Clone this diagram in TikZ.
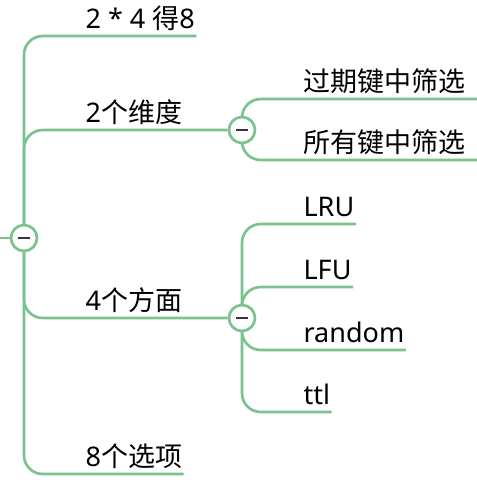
\documentclass[tikz,border=0pt]{standalone}
\usepackage{fontspec}
\setmainfont{Noto Sans}
\newfontfamily\cjk{Noto Sans CJK SC}
\usetikzlibrary{backgrounds}
\definecolor{branch}{RGB}{122,194,142}
\definecolor{minus}{RGB}{55,55,55}
\tikzset{
  link/.style={draw=branch,line width=2pt,rounded corners=14},
  topic/.style={anchor=base west,inner xsep=1,inner ysep=0,text depth=0pt,
    font=\fontsize{20.25}{24}\selectfont},
  fold/.style={circle,draw=branch,fill=white,line width=2pt,minimum size=19.5pt,inner sep=0pt,
    path picture={\draw[minus,line width=2.1pt] ([xshift=-4.6pt]path picture bounding box.center) -- ([xshift=4.6pt]path picture bounding box.center);}},
}
\begin{document}
\begin{tikzpicture}[x=0.75pt,y=0.75pt,yscale=-1,xscale=1]
\useasboundingbox (0,0) rectangle (477,487);
% root and its stub
\coordinate (stub) at (0,238);
\node[fold] (root) at (24,238) {};
% first level
\node[topic] (mul) at (84,28) {2 * 4 {\cjk 得}8};
\node[topic] (dim) at (84,122) {2{\cjk 个维度}};
\node[topic] (asp) at (84,310) {4{\cjk 个方面}};
\node[topic] (opt) at (84,466) {8{\cjk 个选项}};
\node[fold] (dimf) at (242,130) {};
\node[fold] (aspf) at (242,318) {};
% second level
\node[topic] (exp) at (302,91) {\cjk 过期键中筛选};
\node[topic] (all) at (302,152) {\cjk 所有键中筛选};
\node[topic] (lru) at (302,216) {LRU};
\node[topic] (lfu) at (302,279) {LFU};
\node[topic] (rnd) at (302,342) {random};
\node[topic] (ttl) at (302,404) {ttl};
% connectors
\begin{scope}[on background layer]
\draw[link] (stub) -- (root);
\draw[link] (root) |- (mul.base east |- 0,36);
\draw[link] (root) |- (dimf);
\draw[link] (root) |- (aspf);
\draw[link] (root) |- (opt.base east |- 0,474);
\draw[link] (dimf) |- (477,99) coordinate (expend);
\draw[link] (dimf) |- (477,160) coordinate (allend);
\draw[link] (aspf) |- (lru.base east |- 0,224);
\draw[link] (aspf) |- (lfu.base east |- 0,287);
\draw[link] (aspf) |- (rnd.base east |- 0,350);
\draw[link] (aspf) |- (ttl.base east |- 0,412);
\end{scope}
\end{tikzpicture}
\end{document}
